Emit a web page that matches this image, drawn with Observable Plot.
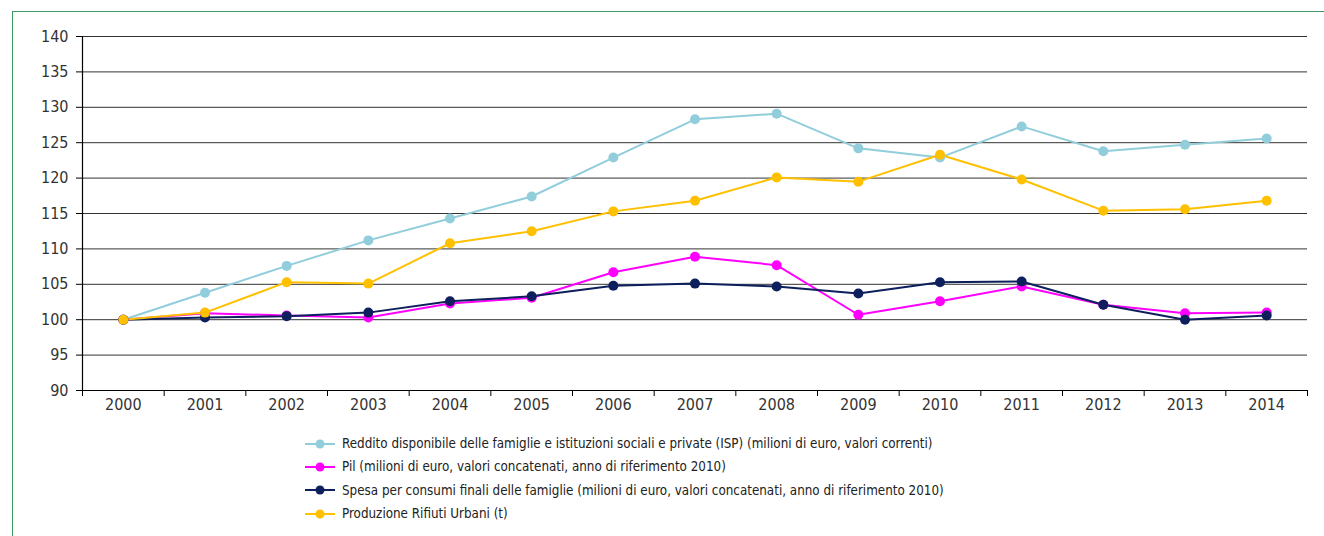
<!DOCTYPE html>
<html>
<head>
<meta charset="utf-8">
<script src="https://cdn.jsdelivr.net/npm/d3@7"></script>
<script src="https://cdn.jsdelivr.net/npm/@observablehq/plot@0.6"></script>
<style>
  html, body { margin: 0; padding: 0; background: #fff; width: 1324px; height: 536px; overflow: hidden; }
  body { position: relative; font-family: "DejaVu Sans Condensed", "DejaVu Sans", sans-serif; font-stretch: condensed; }
  #frame { position: absolute; left: 12px; top: 11px; width: 1400px; height: 700px; border: 1.5px solid #3c9a60; box-sizing: border-box; }
  #chart { position: absolute; left: 0; top: 0; }
  #chart svg text { font-stretch: condensed; }
  #legend { position: absolute; left: 305px; top: 432px; font-size: 13.3px; color: #222; }
  .item { display: flex; align-items: center; height: 23.3px; }
  .item svg { margin-right: 7px; }
</style>
</head>
<body>
<div id="frame"></div>
<div id="chart"></div>
<div id="legend"></div>
<script>
const years = [2000, 2001, 2002, 2003, 2004, 2005, 2006, 2007, 2008, 2009, 2010, 2011, 2012, 2013, 2014];
const reddito = [100, 103.8, 107.6, 111.2, 114.3, 117.4, 122.9, 128.3, 129.1, 124.2, 122.9, 127.3, 123.8, 124.7, 125.6];
const pil = [100, 100.9, 100.6, 100.3, 102.3, 103.1, 106.7, 108.9, 107.7, 100.7, 102.6, 104.7, 102.1, 100.9, 101.0];
const spesa = [100, 100.3, 100.5, 101.0, 102.6, 103.3, 104.8, 105.1, 104.7, 103.7, 105.3, 105.4, 102.1, 100.0, 100.6];
const rifiuti = [100, 101.0, 105.3, 105.1, 110.8, 112.5, 115.3, 116.8, 120.1, 119.5, 123.3, 119.8, 115.4, 115.6, 116.8];
const seriesNames = [
  "Reddito disponibile delle famiglie e istituzioni sociali e private (ISP) (milioni di euro, valori correnti)",
  "Pil (milioni di euro, valori concatenati, anno di riferimento 2010)",
  "Spesa per consumi finali delle famiglie (milioni di euro, valori concatenati, anno di riferimento 2010)",
  "Produzione Rifiuti Urbani (t)"
];
const seriesColors = ["#92cddc", "#ff00ff", "#0d1f5c", "#ffc000"];
const yTicks = [90, 95, 100, 105, 110, 115, 120, 125, 130, 135, 140];

const seriesValues = [reddito, pil, spesa, rifiuti];
const data = seriesValues.flatMap((vals, i) => vals.map((v, j) => ({year: years[j], value: v, series: seriesNames[i]})));
const boundaries = years.map(y => y - 0.5).concat([years[years.length - 1] + 0.5]);
const xMin = years[0] - 0.5, xMax = years[years.length - 1] + 0.5;

const chart = Plot.plot({
  width: 1324,
  height: 425,
  marginLeft: 82,
  marginRight: 17,
  marginTop: 36,
  marginBottom: 35,
  style: {fontFamily: '"DejaVu Sans Condensed", "DejaVu Sans", sans-serif', fontSize: "16px", color: "#333", background: "transparent", overflow: "visible"},
  x: {type: "linear", domain: [xMin, xMax]},
  y: {domain: [yTicks[0], yTicks[yTicks.length - 1]]},
  color: {domain: seriesNames, range: seriesColors},
  marks: [
    Plot.gridY(yTicks, {stroke: "#333", strokeOpacity: 1, strokeWidth: 1}),
    Plot.ruleX([xMin], {stroke: "#000", strokeWidth: 1.2}),
    Plot.ruleY([yTicks[0]], {stroke: "#000", strokeWidth: 1.2}),
    Plot.axisY(yTicks, {tickSize: 6, tickPadding: 8, label: null, stroke: "#000"}),
    Plot.axisX(years, {tickSize: 0, tickPadding: 8, tickFormat: d => String(d), label: null}),
    Plot.axisX(boundaries, {tickSize: 6, tickFormat: () => "", label: null, stroke: "#000"}),
    Plot.line(data, {x: "year", y: "value", z: "series", stroke: "series", strokeWidth: 2}),
    Plot.dot(data, {x: "year", y: "value", fill: "series", r: 5})
  ]
});
document.getElementById("chart").appendChild(chart);

const legend = document.getElementById("legend");
seriesNames.forEach((name, i) => {
  const item = document.createElement("div");
  item.className = "item";
  item.innerHTML = `<svg width="30" height="12"><line x1="0" y1="6" x2="30" y2="6" stroke="${seriesColors[i]}" stroke-width="2"/><circle cx="15" cy="6" r="4.5" fill="${seriesColors[i]}"/></svg><span>${name}</span>`;
  legend.appendChild(item);
});
</script>
</body>
</html>
